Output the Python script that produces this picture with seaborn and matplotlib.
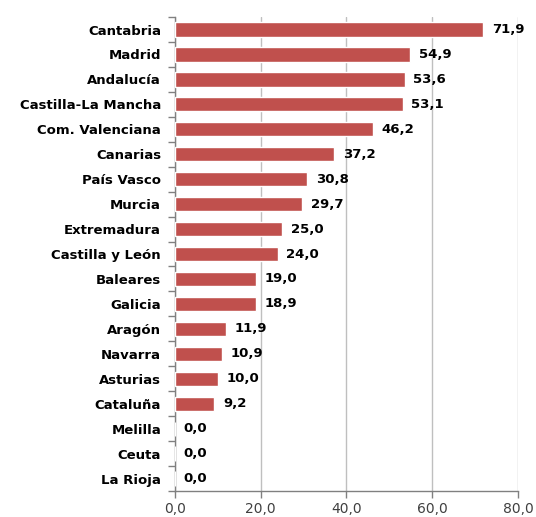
import matplotlib
matplotlib.use("Agg")
import matplotlib.pyplot as plt
import seaborn as sns
import pandas as pd
import numpy as np
from matplotlib.ticker import FixedLocator

regions = ["Cantabria", "Madrid", "Andalucía", "Castilla-La Mancha", "Com. Valenciana",
           "Canarias", "País Vasco", "Murcia", "Extremadura", "Castilla y León",
           "Baleares", "Galicia", "Aragón", "Navarra", "Asturias", "Cataluña",
           "Melilla", "Ceuta", "La Rioja"]
values = [71.9, 54.9, 53.6, 53.1, 46.2, 37.2, 30.8, 29.7, 25.0, 24.0,
          19.0, 18.9, 11.9, 10.9, 10.0, 9.2, 0.0, 0.0, 0.0]
xticks = [0, 20, 40, 60, 80]

df = pd.DataFrame({"region": regions, "value": values})

sns.set_style("white")
plt.rcParams['font.family'] = ['DejaVu Sans']

fig = plt.figure(figsize=(5.36, 5.17), dpi=100)
ax = fig.add_axes([0.3265, 0.0503, 0.6399, 0.9167])

sns.barplot(data=df, x="value", y="region", orient="h", color="#C0504D",
            saturation=1, width=0.57, ax=ax, zorder=3)

ax.set_xlim(0, 80)
ax.set_ylim(len(regions) - 0.5, -0.5)
ax.set_xticks(xticks)
ax.set_xticklabels([f"{t:.1f}".replace(".", ",") for t in xticks],
                   fontsize=10, color="#404040")
ax.set_xlabel("")
ax.set_ylabel("")

for lbl in ax.get_yticklabels():
    lbl.set_fontweight("bold")
    lbl.set_fontsize(9.5)
    lbl.set_color("black")

ax.tick_params(axis="y", which="major", left=False, length=0, pad=10)
ax.yaxis.set_minor_locator(FixedLocator(np.arange(-0.5, len(regions), 1.0)))
ax.tick_params(axis="y", which="minor", left=True, length=5, color="#808080",
               width=1, direction="out")
ax.tick_params(axis="x", which="major", bottom=True, length=5, color="#808080",
               width=1, direction="out", pad=3)

ax.grid(axis="x", color="#BFBFBF", linewidth=1, zorder=0)
ax.set_axisbelow(True)
for s in ["top", "right"]:
    ax.spines[s].set_visible(False)
for s in ["left", "bottom"]:
    ax.spines[s].set_color("#808080")
    ax.spines[s].set_linewidth(1)

for i, v in enumerate(values):
    ax.text(v + 2.0, i, f"{v:.1f}".replace(".", ","), va="center", ha="left",
            fontsize=9.5, fontweight="bold", color="black")

fig.savefig("out.png", dpi=100)
